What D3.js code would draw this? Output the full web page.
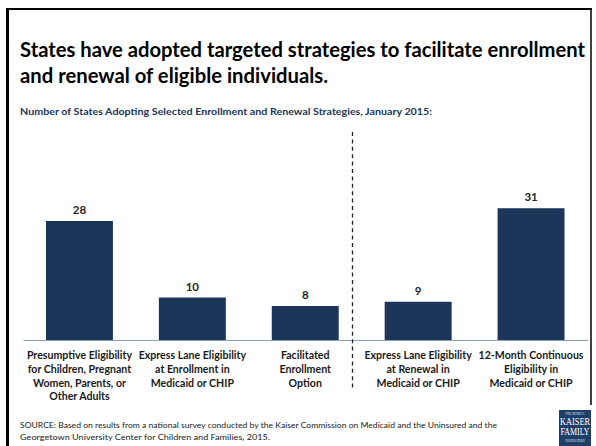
<!DOCTYPE html>
<html>
<head>
<meta charset="utf-8">
<script src="https://cdn.jsdelivr.net/npm/d3@7"></script>
<style>
  html, body { margin: 0; padding: 0; background: #fff; }
  svg { display: block; }
</style>
</head>
<body>
<script>
// Enrollment and renewal strategies (number of states, January 2015)
const categories = [
  ["Presumptive Eligibility", "for Children, Pregnant", "Women, Parents, or", "Other Adults"],
  ["Express Lane Eligibility", "at Enrollment in", "Medicaid or CHIP"],
  ["Facilitated", "Enrollment", "Option"],
  ["Express Lane Eligibility", "at Renewal in", "Medicaid or CHIP"],
  ["12-Month Continuous", "Eligibility in", "Medicaid or CHIP"]
];
const values = [28, 10, 8, 9, 31];

const titleLines = [
  "States have adopted targeted strategies to facilitate enrollment",
  "and renewal of eligible individuals."
];
const subtitle = "Number of States Adopting Selected Enrollment and Renewal Strategies, January 2015:";
const sourceLines = [
  "SOURCE: Based on results from a national survey conducted by the Kaiser Commission on Medicaid and the Uninsured and the",
  "Georgetown University Center for Children and Families, 2015."
];

const W = 596, H = 446;
const FONT = "Lato, 'Open Sans', sans-serif";
const NAVY = "#1b3659";

const svg = d3.select("body").append("svg")
  .attr("width", W).attr("height", H)
  .style("font-family", FONT);

svg.append("rect").attr("width", W).attr("height", H).attr("fill", "#fff");

// slide frame
svg.append("line").attr("x1", 7.5).attr("x2", 7.5).attr("y1", 8).attr("y2", H).attr("stroke", "#000").attr("stroke-width", 3);
svg.append("line").attr("x1", 6).attr("x2", 592).attr("y1", 9).attr("y2", 9).attr("stroke", "#000").attr("stroke-width", 2);
svg.append("line").attr("x1", 591).attr("x2", 591).attr("y1", 8).attr("y2", 405).attr("stroke", "#000").attr("stroke-width", 1.5);

// title
const titleWidths = [565, 308];
titleLines.forEach((t, i) => {
  svg.append("text")
    .attr("x", 20).attr("y", 57 + i * 26)
    .attr("font-size", 20).attr("font-weight", 700).attr("fill", "#000")
    .attr("textLength", titleWidths[i]).attr("lengthAdjust", "spacingAndGlyphs")
    .text(t);
});

svg.append("text")
  .attr("x", 20).attr("y", 115)
  .attr("font-size", 9).attr("font-weight", 700).attr("fill", NAVY)
  .attr("textLength", 412).attr("lengthAdjust", "spacingAndGlyphs")
  .text(subtitle);

// scales
const x = d3.scaleBand()
  .domain(d3.range(values.length))
  .range([23, 587.5])
  .paddingInner(0.407)
  .paddingOuter(0.2035);

const y = d3.scaleLinear().domain([0, 35]).range([340, 340 - 35 * 4.25]);

// bars
svg.append("g").selectAll("rect")
  .data(values)
  .join("rect")
  .attr("x", (d, i) => x(i))
  .attr("y", d => y(d))
  .attr("width", x.bandwidth())
  .attr("height", d => y(0) - y(d))
  .attr("fill", NAVY);

// baseline
const axis = svg.append("g").attr("transform", `translate(0,${y(0)})`)
  .call(d3.axisBottom(x).tickSize(0).tickFormat(""));
axis.select(".domain").attr("stroke", "#8aa0b8").attr("stroke-width", 1.2);

// value labels
svg.append("g").selectAll("text")
  .data(values)
  .join("text")
  .attr("x", (d, i) => x(i) + x.bandwidth() / 2)
  .attr("y", d => y(d) - 7)
  .attr("text-anchor", "middle")
  .attr("font-size", 11.5).attr("font-weight", 700).attr("fill", "#262626")
  .text(d => d);

// category labels
const cat = svg.append("g").selectAll("text")
  .data(categories)
  .join("text")
  .attr("text-anchor", "middle")
  .attr("font-size", 10.6).attr("font-weight", 700).attr("fill", "#1a1a1a");
cat.each(function (lines, i) {
  const t = d3.select(this);
  lines.forEach((ln, j) => {
    t.append("tspan")
      .attr("x", x(i) + x.bandwidth() / 2)
      .attr("y", 359 + j * 13.8)
      .text(ln);
  });
});

// divider between enrollment and renewal strategies
const endEnroll = x(2) + x.bandwidth();
const divX = endEnroll + 0.3 * (x(3) - endEnroll);
svg.append("line")
  .attr("x1", divX).attr("x2", divX)
  .attr("y1", 132).attr("y2", 388)
  .attr("stroke", "#222").attr("stroke-width", 1.3)
  .attr("stroke-dasharray", "4,3.4");

// source note
sourceLines.forEach((t, i) => {
  svg.append("text")
    .attr("x", 20).attr("y", 428 + i * 12)
    .attr("font-size", 8.4).attr("fill", "#1a1a1a")
    .attr("textLength", i === 0 ? 477 : 250).attr("lengthAdjust", "spacingAndGlyphs")
    .text(t);
});

// foundation logo
const logo = svg.append("g").attr("transform", "translate(559,410)");
logo.append("rect").attr("width", 32).attr("height", 36).attr("fill", "#1f3f6b");
logo.append("text").attr("x", 16).attr("y", 5).attr("text-anchor", "middle")
  .attr("font-size", 3).attr("fill", "#dfe6ef").attr("font-family", "'Liberation Serif', serif")
  .text("THE HENRY J.");
logo.append("text").attr("x", 16).attr("y", 15).attr("text-anchor", "middle")
  .attr("font-size", 10).attr("fill", "#fff").attr("font-family", "'Liberation Serif', serif")
  .attr("textLength", 30).attr("lengthAdjust", "spacingAndGlyphs")
  .text("KAISER");
logo.append("text").attr("x", 16).attr("y", 25).attr("text-anchor", "middle")
  .attr("font-size", 10).attr("fill", "#fff").attr("font-family", "'Liberation Serif', serif")
  .attr("textLength", 29).attr("lengthAdjust", "spacingAndGlyphs")
  .text("FAMILY");
logo.append("text").attr("x", 16).attr("y", 32).attr("text-anchor", "middle")
  .attr("font-size", 3).attr("fill", "#dfe6ef").attr("font-family", "'Liberation Serif', serif")
  .text("FOUNDATION");
</script>
</body>
</html>
